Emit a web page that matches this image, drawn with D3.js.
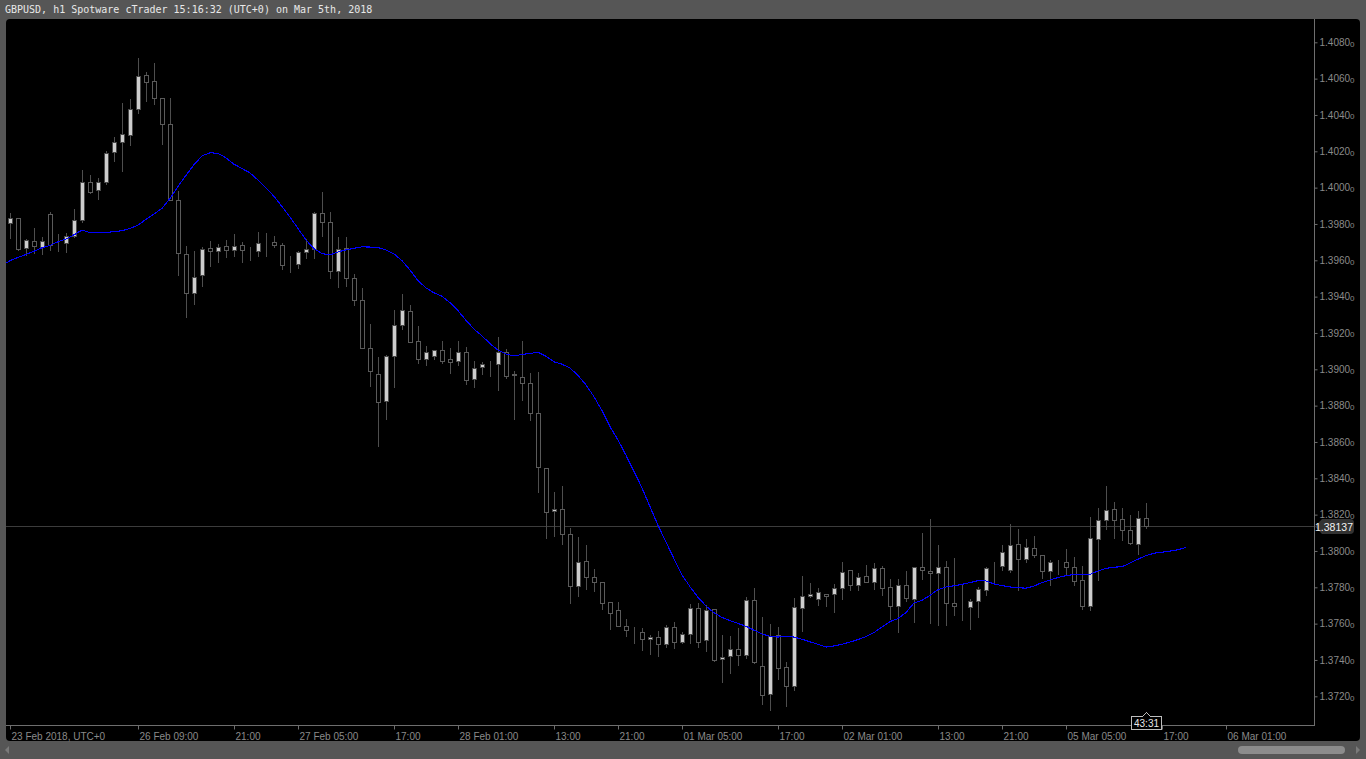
<!DOCTYPE html>
<html>

<head>
  <meta charset="utf-8">
  <style>
    html,
    body {
      margin: 0;
      padding: 0;
      background: #565656;
      overflow: hidden;
    }

    svg {
      display: block;
    }

    .title {
      font-family: "DejaVu Sans Mono", monospace;
      font-size: 10px;
      fill: #e8e8e8;
    }

    .axis text {
      font-family: "Liberation Sans", Arial, sans-serif;
      font-size: 10px;
      fill: #8a8a8a;
    }

    .axis line {
      stroke: #6e6e6e;
    }
  </style>
</head>

<body>
  <svg id="chart" width="1366" height="759"></svg>

  <script src="https://d3js.org/d3.v7.min.js"></script>
  <script>
    // hourly GBPUSD bars, 23 Feb 17:00 -> 05 Mar 15:00 (index = bar number)
    const opens = [1.39804, 1.39831, 1.39666, 1.39705, 1.39672, 1.39853, 1.39699, 1.39694, 1.39732, 1.39820,
      1.40029, 1.39985, 1.40029, 1.40195, 1.40253, 1.40288, 1.40431, 1.40620, 1.40585, 1.40492,
      1.40349, 1.39930, 1.39633, 1.39418, 1.39518, 1.39666, 1.39651, 1.39677, 1.39655, 1.39683,
      1.39651, 1.39651, 1.39695, 1.39699, 1.39683, 1.39580, 1.39580, 1.39644, 1.39661, 1.39859,
      1.39809, 1.39540, 1.39666, 1.39501, 1.39380, 1.39119, 1.38972, 1.38824, 1.39072, 1.39242,
      1.39319, 1.39154, 1.39055, 1.39072, 1.39105, 1.39055, 1.39044, 1.39094, 1.38945, 1.39013,
      1.39035, 1.39027, 1.39094, 1.38972, 1.38960, 1.38923, 1.38758, 1.38455, 1.38218, 1.38229,
      1.38092, 1.37809, 1.37943, 1.37855, 1.37827, 1.37717, 1.37673, 1.37587, 1.37552, 1.37552,
      1.37514, 1.37525, 1.37486, 1.37580, 1.37500, 1.37541, 1.37684, 1.37508, 1.37679, 1.37404,
      1.37420, 1.37459, 1.37426, 1.37728, 1.37365, 1.37211, 1.37536, 1.37359, 1.37255, 1.37684,
      1.37750, 1.37734, 1.37765, 1.37761, 1.37794, 1.37895, 1.37811, 1.37860, 1.37827, 1.37904,
      1.37800, 1.37695, 1.37811, 1.37734, 1.37910, 1.37888, 1.37877, 1.37910, 1.37712, 1.37695,
      1.37690, 1.37723, 1.37783, 1.37910, 1.37915, 1.37893, 1.38037, 1.37954, 1.38015, 1.37976,
      1.37888, 1.37937, 1.37937, 1.37910, 1.37838, 1.37695, 1.38064, 1.38169, 1.38229, 1.38174,
      1.38114, 1.38037, 1.38180
    ];

    const highs = [1.39859, 1.39831, 1.39717, 1.39778, 1.39730, 1.39864, 1.39745, 1.39752, 1.39881, 1.40097,
      1.40070, 1.40051, 1.40202, 1.40280, 1.40464, 1.40486, 1.40712, 1.40635, 1.40685, 1.40492,
      1.40492, 1.39983, 1.39680, 1.39653, 1.39675, 1.39705, 1.39688, 1.39710, 1.39745, 1.39699,
      1.39672, 1.39754, 1.39752, 1.39736, 1.39697, 1.39624, 1.39653, 1.39719, 1.39866, 1.39974,
      1.39864, 1.39730, 1.39727, 1.39523, 1.39446, 1.39248, 1.39066, 1.39080, 1.39326, 1.39413,
      1.39352, 1.39237, 1.39127, 1.39108, 1.39154, 1.39116, 1.39154, 1.39121, 1.39044, 1.39038,
      1.39044, 1.39178, 1.39110, 1.38989, 1.39154, 1.38978, 1.38984, 1.38455, 1.38323, 1.38358,
      1.38125, 1.38075, 1.38033, 1.37901, 1.37827, 1.37717, 1.37721, 1.37624, 1.37581, 1.37576,
      1.37537, 1.37558, 1.37592, 1.37607, 1.37555, 1.37706, 1.37712, 1.37701, 1.37679, 1.37537,
      1.37530, 1.37576, 1.37745, 1.37794, 1.37635, 1.37596, 1.37580, 1.37387, 1.37743, 1.37862,
      1.37822, 1.37794, 1.37765, 1.37820, 1.37937, 1.37895, 1.37877, 1.37921, 1.37932, 1.37915,
      1.37844, 1.37844, 1.37888, 1.37910, 1.38097, 1.38174, 1.38031, 1.37945, 1.37960, 1.37816,
      1.37734, 1.37800, 1.37910, 1.37937, 1.38031, 1.38147, 1.38119, 1.38064, 1.38081, 1.37976,
      1.37948, 1.37948, 1.38009, 1.37965, 1.37915, 1.38185, 1.38235, 1.38356, 1.38268, 1.38235,
      1.38196, 1.38218, 1.38262
    ];

    const lows = [1.39721, 1.39658, 1.39629, 1.39642, 1.39633, 1.39655, 1.39651, 1.39647, 1.39730, 1.39813,
      1.39969, 1.39939, 1.40020, 1.40148, 1.40093, 1.40236, 1.40413, 1.40479, 1.40459, 1.40239,
      1.39932, 1.39518, 1.39290, 1.39358, 1.39460, 1.39570, 1.39592, 1.39620, 1.39624, 1.39592,
      1.39602, 1.39624, 1.39624, 1.39672, 1.39551, 1.39534, 1.39556, 1.39611, 1.39611, 1.39736,
      1.39504, 1.39455, 1.39460, 1.39356, 1.39116, 1.38910, 1.38579, 1.38728, 1.38904, 1.39224,
      1.39152, 1.39036, 1.39022, 1.39055, 1.39036, 1.38981, 1.39025, 1.38919, 1.38904, 1.38974,
      1.38963, 1.38888, 1.38954, 1.38728, 1.38833, 1.38721, 1.38326, 1.38073, 1.38084, 1.38037,
      1.37715, 1.37754, 1.37792, 1.37778, 1.37680, 1.37572, 1.37589, 1.37534, 1.37495, 1.37453,
      1.37433, 1.37423, 1.37473, 1.37464, 1.37492, 1.37495, 1.37473, 1.37451, 1.37396, 1.37277,
      1.37326, 1.37372, 1.37409, 1.37381, 1.37156, 1.37123, 1.37293, 1.37149, 1.37237, 1.37561,
      1.37745, 1.37704, 1.37699, 1.37666, 1.37734, 1.37783, 1.37783, 1.37827, 1.37789, 1.37759,
      1.37624, 1.37555, 1.37723, 1.37610, 1.37844, 1.37602, 1.37594, 1.37594, 1.37649, 1.37622,
      1.37572, 1.37638, 1.37759, 1.37827, 1.37893, 1.37882, 1.37783, 1.37937, 1.37965, 1.37849,
      1.37812, 1.37871, 1.37866, 1.37811, 1.37679, 1.37673, 1.37838, 1.38119, 1.38070, 1.38059,
      1.38037, 1.37985, 1.38125
    ];

    const closes = [1.39831, 1.39661, 1.39710, 1.39677, 1.39705, 1.39683, 1.39700, 1.39732, 1.39820, 1.40029,
      1.39978, 1.40029, 1.40189, 1.40253, 1.40294, 1.40431, 1.40613, 1.40583, 1.40494, 1.40349,
      1.39932, 1.39639, 1.39418, 1.39510, 1.39664, 1.39653, 1.39672, 1.39657, 1.39677, 1.39655,
      1.39652, 1.39694, 1.39696, 1.39683, 1.39573, 1.39581, 1.39644, 1.39661, 1.39859, 1.39809,
      1.39540, 1.39664, 1.39501, 1.39380, 1.39119, 1.38989, 1.38818, 1.39072, 1.39242, 1.39325,
      1.39152, 1.39055, 1.39097, 1.39108, 1.39047, 1.39038, 1.39094, 1.38939, 1.39009, 1.39027,
      1.39035, 1.39094, 1.38965, 1.38970, 1.38922, 1.38758, 1.38460, 1.38216, 1.38229, 1.38092,
      1.37809, 1.37937, 1.37855, 1.37827, 1.37712, 1.37660, 1.37589, 1.37563, 1.37553, 1.37514,
      1.37525, 1.37486, 1.37580, 1.37500, 1.37541, 1.37684, 1.37500, 1.37673, 1.37401, 1.37415,
      1.37459, 1.37426, 1.37728, 1.37387, 1.37205, 1.37530, 1.37354, 1.37259, 1.37690, 1.37750,
      1.37765, 1.37772, 1.37754, 1.37794, 1.37882, 1.37811, 1.37855, 1.37827, 1.37904, 1.37794,
      1.37695, 1.37811, 1.37739, 1.37910, 1.37893, 1.37877, 1.37910, 1.37712, 1.37695, 1.37696,
      1.37723, 1.37789, 1.37904, 1.37911, 1.37993, 1.38031, 1.37954, 1.38020, 1.37976, 1.37888,
      1.37937, 1.37938, 1.37910, 1.37833, 1.37695, 1.38070, 1.38169, 1.38224, 1.38169, 1.38114,
      1.38042, 1.38180, 1.38137
    ];

    // blue moving average, starts one bar before the first candle and runs past the last one
    const maStart = -1;
    const maValues = [1.39571, 1.39598, 1.39616, 1.39632, 1.39650, 1.39669, 1.39682, 1.39702, 1.39717, 1.39740,
      1.39767, 1.39752, 1.39753, 1.39754, 1.39757, 1.39763, 1.39775, 1.39794, 1.39825, 1.39855,
      1.39886, 1.39941, 1.40007, 1.40068, 1.40126, 1.40175, 1.40192, 1.40189, 1.40164, 1.40129,
      1.40105, 1.40081, 1.40042, 1.39999, 1.39952, 1.39896, 1.39838, 1.39775, 1.39712, 1.39664,
      1.39637, 1.39629, 1.39646, 1.39657, 1.39666, 1.39674, 1.39673, 1.39670, 1.39657, 1.39635,
      1.39598, 1.39547, 1.39488, 1.39448, 1.39421, 1.39402, 1.39367, 1.39323, 1.39270, 1.39221,
      1.39184, 1.39141, 1.39106, 1.39084, 1.39073, 1.39082, 1.39087, 1.39094, 1.39072, 1.39041,
      1.39028, 1.39007, 1.38966, 1.38915, 1.38849, 1.38772, 1.38684, 1.38611, 1.38527, 1.38438,
      1.38347, 1.38244, 1.38141, 1.38049, 1.37957, 1.37869, 1.37803, 1.37745, 1.37697, 1.37660,
      1.37634, 1.37617, 1.37601, 1.37585, 1.37564, 1.37543, 1.37530, 1.37526, 1.37531, 1.37526,
      1.37514, 1.37500, 1.37486, 1.37471, 1.37477, 1.37486, 1.37499, 1.37512, 1.37529, 1.37551,
      1.37581, 1.37611, 1.37628, 1.37661, 1.37714, 1.37728, 1.37756, 1.37787, 1.37802, 1.37808,
      1.37816, 1.37826, 1.37837, 1.37835, 1.37819, 1.37809, 1.37802, 1.37798, 1.37795, 1.37807,
      1.37826, 1.37840, 1.37854, 1.37864, 1.37871, 1.37871, 1.37871, 1.37890, 1.37904, 1.37911,
      1.37913, 1.37933, 1.37955, 1.37974, 1.37988, 1.37993, 1.37999, 1.38007, 1.38019
    ];

    const xTickBars = [0, 16, 28, 36, 48, 56, 68, 76, 84, 96, 104, 116, 124, 132, 144, 152];
    const xTickLabels = ["23 Feb 2018, UTC+0", "26 Feb 09:00", "21:00", "27 Feb 05:00", "17:00", "28 Feb 01:00",
      "13:00", "21:00", "01 Mar 05:00", "17:00", "02 Mar 01:00", "13:00", "21:00", "05 Mar 05:00", "17:00",
      "06 Mar 01:00"
    ];

    const yTicks = [1.3720, 1.3740, 1.3760, 1.3780, 1.3800, 1.3820, 1.3840, 1.3860, 1.3880, 1.3900,
      1.3920, 1.3940, 1.3960, 1.3980, 1.4000, 1.4020, 1.4040, 1.4060, 1.4080
    ];

    const lastPrice = 1.38137;
    const countdown = "43:31";
    const titleText = "GBPUSD, h1 Spotware cTrader 15:16:32 (UTC+0) on Mar 5th, 2018";

    // layout
    const panel = { left: 6, top: 19, right: 1360, bottom: 741 };
    const plot = { left: 6, top: 19, right: 1314, bottom: 725 };

    const svg = d3.select("#chart");

    svg.append("text")
      .attr("class", "title")
      .attr("x", 5)
      .attr("y", 13)
      .text(titleText);

    svg.append("rect")
      .attr("x", panel.left)
      .attr("y", panel.top)
      .attr("width", panel.right - panel.left)
      .attr("height", panel.bottom - panel.top)
      .attr("rx", 4)
      .attr("fill", "#000");

    // scales: one bar every 8px
    let x = d3.scaleLinear()
      .domain([0, 152])
      .range([10, 1226]);

    let y = d3.scaleLinear()
      .domain([1.3720, 1.4080])
      .range([696.3, 42.3]);

    svg.append("clipPath")
      .attr("id", "plotClip")
      .append("rect")
      .attr("x", plot.left)
      .attr("y", plot.top)
      .attr("width", plot.right - plot.left)
      .attr("height", plot.bottom - plot.top);

    let chart = svg.append("g")
      .attr("clip-path", "url(#plotClip)");

    // current price line
    chart.append("line")
      .attr("x1", plot.left)
      .attr("x2", plot.right)
      .attr("y1", Math.round(y(lastPrice)) + 0.5)
      .attr("y2", Math.round(y(lastPrice)) + 0.5)
      .attr("stroke", "#3c3c3c")
      .attr("shape-rendering", "crispEdges");

    let bars = opens.map(function(o, i) {
      return { i: i, o: o, h: highs[i], l: lows[i], c: closes[i] };
    });

    // wicks
    chart.append("g")
      .selectAll("line")
      .data(bars)
      .join("line")
      .attr("x1", d => Math.round(x(d.i)) + 0.5)
      .attr("x2", d => Math.round(x(d.i)) + 0.5)
      .attr("y1", d => Math.round(y(d.h)))
      .attr("y2", d => Math.round(y(d.l)) + 1)
      .attr("stroke", "#4e4e4e")
      .attr("shape-rendering", "crispEdges");

    // bodies
    chart.append("g")
      .selectAll("rect")
      .data(bars)
      .join("rect")
      .attr("x", d => Math.round(x(d.i)) - 1.5)
      .attr("width", 4)
      .attr("y", d => Math.round(y(Math.max(d.o, d.c))) + 0.5)
      .attr("height", d => Math.max(0, Math.round(y(Math.min(d.o, d.c))) - Math.round(y(Math.max(d.o, d.c)))))
      .attr("fill", d => d.c >= d.o ? "#cdcdcd" : "#000")
      .attr("stroke", d => d.c >= d.o ? "#4a4a4a" : "#5a5a5a")
      .attr("shape-rendering", "crispEdges");

    // moving average
    chart.append("path")
      .datum(maValues)
      .attr("d", d3.line()
        .x((d, k) => x(maStart + k))
        .y(d => y(d)))
      .attr("fill", "none")
      .attr("stroke", "#0000ff")
      .attr("stroke-width", 1.1)
      .attr("shape-rendering", "crispEdges");

    // price axis
    let yAxis = svg.append("g")
      .attr("class", "axis")
      .attr("transform", "translate(" + (plot.right + 0.5) + ",0)")
      .call(d3.axisRight(y).tickValues(yTicks).tickSize(3).tickPadding(2).tickFormat(d3.format(".4f")));
    yAxis.select(".domain").remove();
    yAxis.selectAll("text").append("tspan")
      .attr("font-size", "8px")
      .attr("dy", "0.5")
      .text("0");

    // time axis
    let xAxis = svg.append("g")
      .attr("class", "axis")
      .attr("transform", "translate(0," + (plot.bottom + 0.5) + ")")
      .call(d3.axisBottom(x).tickValues(xTickBars).tickSize(4).tickPadding(3)
        .tickFormat((d, k) => xTickLabels[k]));
    xAxis.select(".domain").remove();
    xAxis.selectAll("text")
      .attr("text-anchor", "start")
      .attr("dx", 1);

    // axis frame lines
    svg.append("path")
      .attr("d", "M" + plot.left + "," + (plot.bottom + 0.5) + "H" + (plot.right + 0.5) + "V" + plot.top)
      .attr("fill", "none")
      .attr("stroke", "#6e6e6e")
      .attr("shape-rendering", "crispEdges");

    // last price tag
    let py = Math.round(y(lastPrice)) + 0.5;
    svg.append("path")
      .attr("d", "M" + (plot.right + 1) + "," + py + "L" + (plot.right + 8) + "," + (py - 7.5) +
        "H" + 1350 + "Q1354," + (py - 7.5) + " 1354," + (py - 3.5) + "V" + (py + 3.5) +
        "Q1354," + (py + 7.5) + " 1350," + (py + 7.5) + "H" + (plot.right + 8) + "Z")
      .attr("fill", "#333");
    svg.append("text")
      .attr("x", 1334)
      .attr("y", py + 4)
      .attr("text-anchor", "middle")
      .attr("font-family", "Liberation Sans, Arial, sans-serif")
      .attr("font-size", "10.5px")
      .attr("fill", "#f2f2f2")
      .text(d3.format(".5f")(lastPrice));

    // bar countdown tag under the last bar
    let cx = Math.round(x(bars.length - 1)) + 0.5;
    svg.append("path")
      .attr("d", "M" + (cx - 15) + ",716.5H" + (cx - 4) + "L" + cx + ",712.5L" + (cx + 4) + ",716.5H" + (cx + 15) +
        "V729.5H" + (cx - 15) + "Z")
      .attr("fill", "#000")
      .attr("stroke", "#bdbdbd")
      .attr("shape-rendering", "crispEdges");
    svg.append("text")
      .attr("x", cx)
      .attr("y", 727)
      .attr("text-anchor", "middle")
      .attr("font-family", "Liberation Sans, Arial, sans-serif")
      .attr("font-size", "10px")
      .attr("fill", "#e8e8e8")
      .text(countdown);

    // scrollbar
    svg.append("rect")
      .attr("x", 1238)
      .attr("y", 746)
      .attr("width", 107)
      .attr("height", 8)
      .attr("rx", 4)
      .attr("fill", "#8c8c8c");
    svg.append("path")
      .attr("d", "M5,750L9,746V754Z")
      .attr("fill", "#7a7a7a");
    svg.append("path")
      .attr("d", "M1360,750L1356,746V754Z")
      .attr("fill", "#7a7a7a");
  </script>
</body>

</html>
